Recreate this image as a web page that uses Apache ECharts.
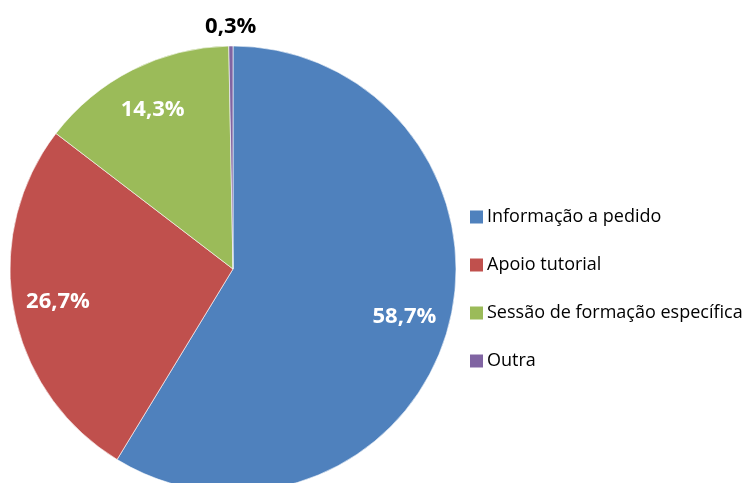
<!DOCTYPE html>
<html>
<head>
<meta charset="utf-8">
<script src="https://cdn.jsdelivr.net/npm/echarts@6/dist/echarts.min.js"></script>
<style>
  html, body { margin: 0; padding: 0; background: #ffffff; }
  #chart { width: 752px; height: 483px; }
</style>
</head>
<body>
<div id="chart"></div>
<script>
// Tipos de apoio solicitados (percentagem)
const categories = ['Informação a pedido', 'Apoio tutorial', 'Sessão de formação específica', 'Outra'];
const values = [58.7, 26.7, 14.3, 0.3];
const colors = ['#4F81BD', '#C0504D', '#9BBB59', '#8064A2'];

const fmt = v => v.toFixed(1).replace('.', ',') + '%';

const cx = 233, cy = 269, R = 223;

const pieData = categories.map((name, i) => ({
  name, value: values[i], itemStyle: { color: colors[i] }
}));

// Inner labels sit at ~0.8 R; the tiny slice gets its label above the rim.
const innerLabelData = categories.map((name, i) => ({
  name, value: values[i],
  label: { show: values[i] >= 1 }
}));
const outerLabelData = categories.map((name, i) => ({
  name, value: values[i],
  label: { show: values[i] < 1 }
}));

const labelFont = {
  fontFamily: '"Open Sans", "Noto Sans", sans-serif',
  fontWeight: 'bold',
  fontSize: 22
};

const chart = echarts.init(document.getElementById('chart'), null, { renderer: 'canvas' });
chart.setOption({
  animation: false,
  backgroundColor: '#ffffff',
  legend: {
    orient: 'vertical',
    left: 465,
    top: 203,
    itemWidth: 13,
    itemHeight: 13,
    itemGap: 30,
    icon: 'rect',
    itemStyle: { borderWidth: 0 },
    data: categories,
    textStyle: {
      fontFamily: '"Open Sans", "Noto Sans", sans-serif',
      fontSize: 18,
      lineHeight: 18,
      color: '#000000',
      padding: [0, 0, 0, -1]
    }
  },
  series: [
    {
      type: 'pie',
      center: [cx, cy],
      radius: R,
      startAngle: 90,
      clockwise: true,
      label: { show: false },
      labelLine: { show: false },
      itemStyle: { borderColor: '#ffffff', borderWidth: 0.6 },
      emphasis: { disabled: true },
      data: pieData
    },
    {
      type: 'pie',
      center: [cx, cy],
      radius: R * 1.57,
      startAngle: 90,
      clockwise: true,
      silent: true,
      legendHoverLink: false,
      itemStyle: { color: 'rgba(0,0,0,0)' },
      label: Object.assign({
        position: 'inside',
        color: '#ffffff',
        formatter: p => fmt(p.value)
      }, labelFont),
      labelLine: { show: false },
      emphasis: { disabled: true },
      data: innerLabelData
    },
    {
      type: 'pie',
      center: [cx, cy],
      radius: 239 * 2,
      startAngle: 90,
      clockwise: true,
      silent: true,
      legendHoverLink: false,
      itemStyle: { color: 'rgba(0,0,0,0)' },
      label: Object.assign({
        position: 'inside',
        color: '#000000',
        formatter: p => fmt(p.value)
      }, labelFont),
      labelLine: { show: false },
      emphasis: { disabled: true },
      data: outerLabelData
    }
  ]
});
</script>
</body>
</html>
